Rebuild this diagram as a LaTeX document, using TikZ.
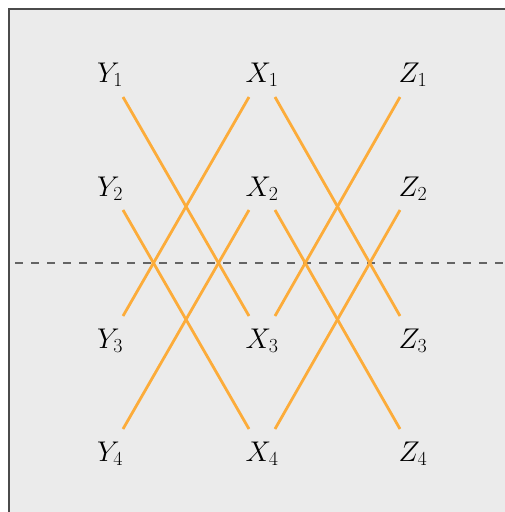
\RequirePackage{fix-cm}
\documentclass[tikz,border=0pt]{standalone}
\usepackage{tikz}
\definecolor{bgfill}{RGB}{235,235,235}
\definecolor{frameline}{RGB}{75,75,75}
\definecolor{linkorange}{RGB}{252,172,58}
\definecolor{dashgray}{RGB}{100,100,100}
\begin{document}
\begin{tikzpicture}[x=1pt,y=-1pt,
  lab/.style={anchor=base,inner sep=0pt,font=\fontsize{28.5}{34}\selectfont},
  link/.style={draw=linkorange,line width=2.8pt},
  mid/.style={draw=dashgray,line width=1.6pt,dash pattern=on 8pt off 8pt}]
\useasboundingbox (0,0) rectangle (505,512);
\clip (0,0) rectangle (505,512);
\draw[fill=bgfill,draw=frameline,line width=1.4pt] (9,9) rectangle (530,530);
% labels
\node[lab] (Y1) at (110,82) {$Y_1$};
\node[lab] (X1) at (262,82) {$X_1$};
\node[lab] (Z1) at (413,82) {$Z_1$};
\node[lab] (Y2) at (110,196) {$Y_2$};
\node[lab] (X2) at (262,196) {$X_2$};
\node[lab] (Z2) at (413,196) {$Z_2$};
\node[lab] (Y3) at (110,348) {$Y_3$};
\node[lab] (X3) at (262,348) {$X_3$};
\node[lab] (Z3) at (413,348) {$Z_3$};
\node[lab] (Y4) at (110,461) {$Y_4$};
\node[lab] (X4) at (262,461) {$X_4$};
\node[lab] (Z4) at (413,461) {$Z_4$};
% endpoints
\coordinate (y1) at (123,97);
\coordinate (x1l) at (249,97);
\coordinate (x1r) at (275,97);
\coordinate (z1) at (400,97);
\coordinate (y2) at (123,210);
\coordinate (x2l) at (249,210);
\coordinate (x2r) at (275,210);
\coordinate (z2) at (400,210);
\coordinate (y3) at (123,316);
\coordinate (x3l) at (249,316);
\coordinate (x3r) at (275,316);
\coordinate (z3) at (400,316);
\coordinate (y4) at (123,429);
\coordinate (x4l) at (249,429);
\coordinate (x4r) at (275,429);
\coordinate (z4) at (400,429);
% dashed midline
\coordinate (dl) at (15,263);
\coordinate (dr) at (505,263);
\draw[mid] (dl) -- (dr);
% links
\draw[link] (y1) -- (x3l);
\draw[link] (x1l) -- (y3);
\draw[link] (x1r) -- (z3);
\draw[link] (z1) -- (x3r);
\draw[link] (y2) -- (x4l);
\draw[link] (x2l) -- (y4);
\draw[link] (x2r) -- (z4);
\draw[link] (z2) -- (x4r);
\end{tikzpicture}
\end{document}
